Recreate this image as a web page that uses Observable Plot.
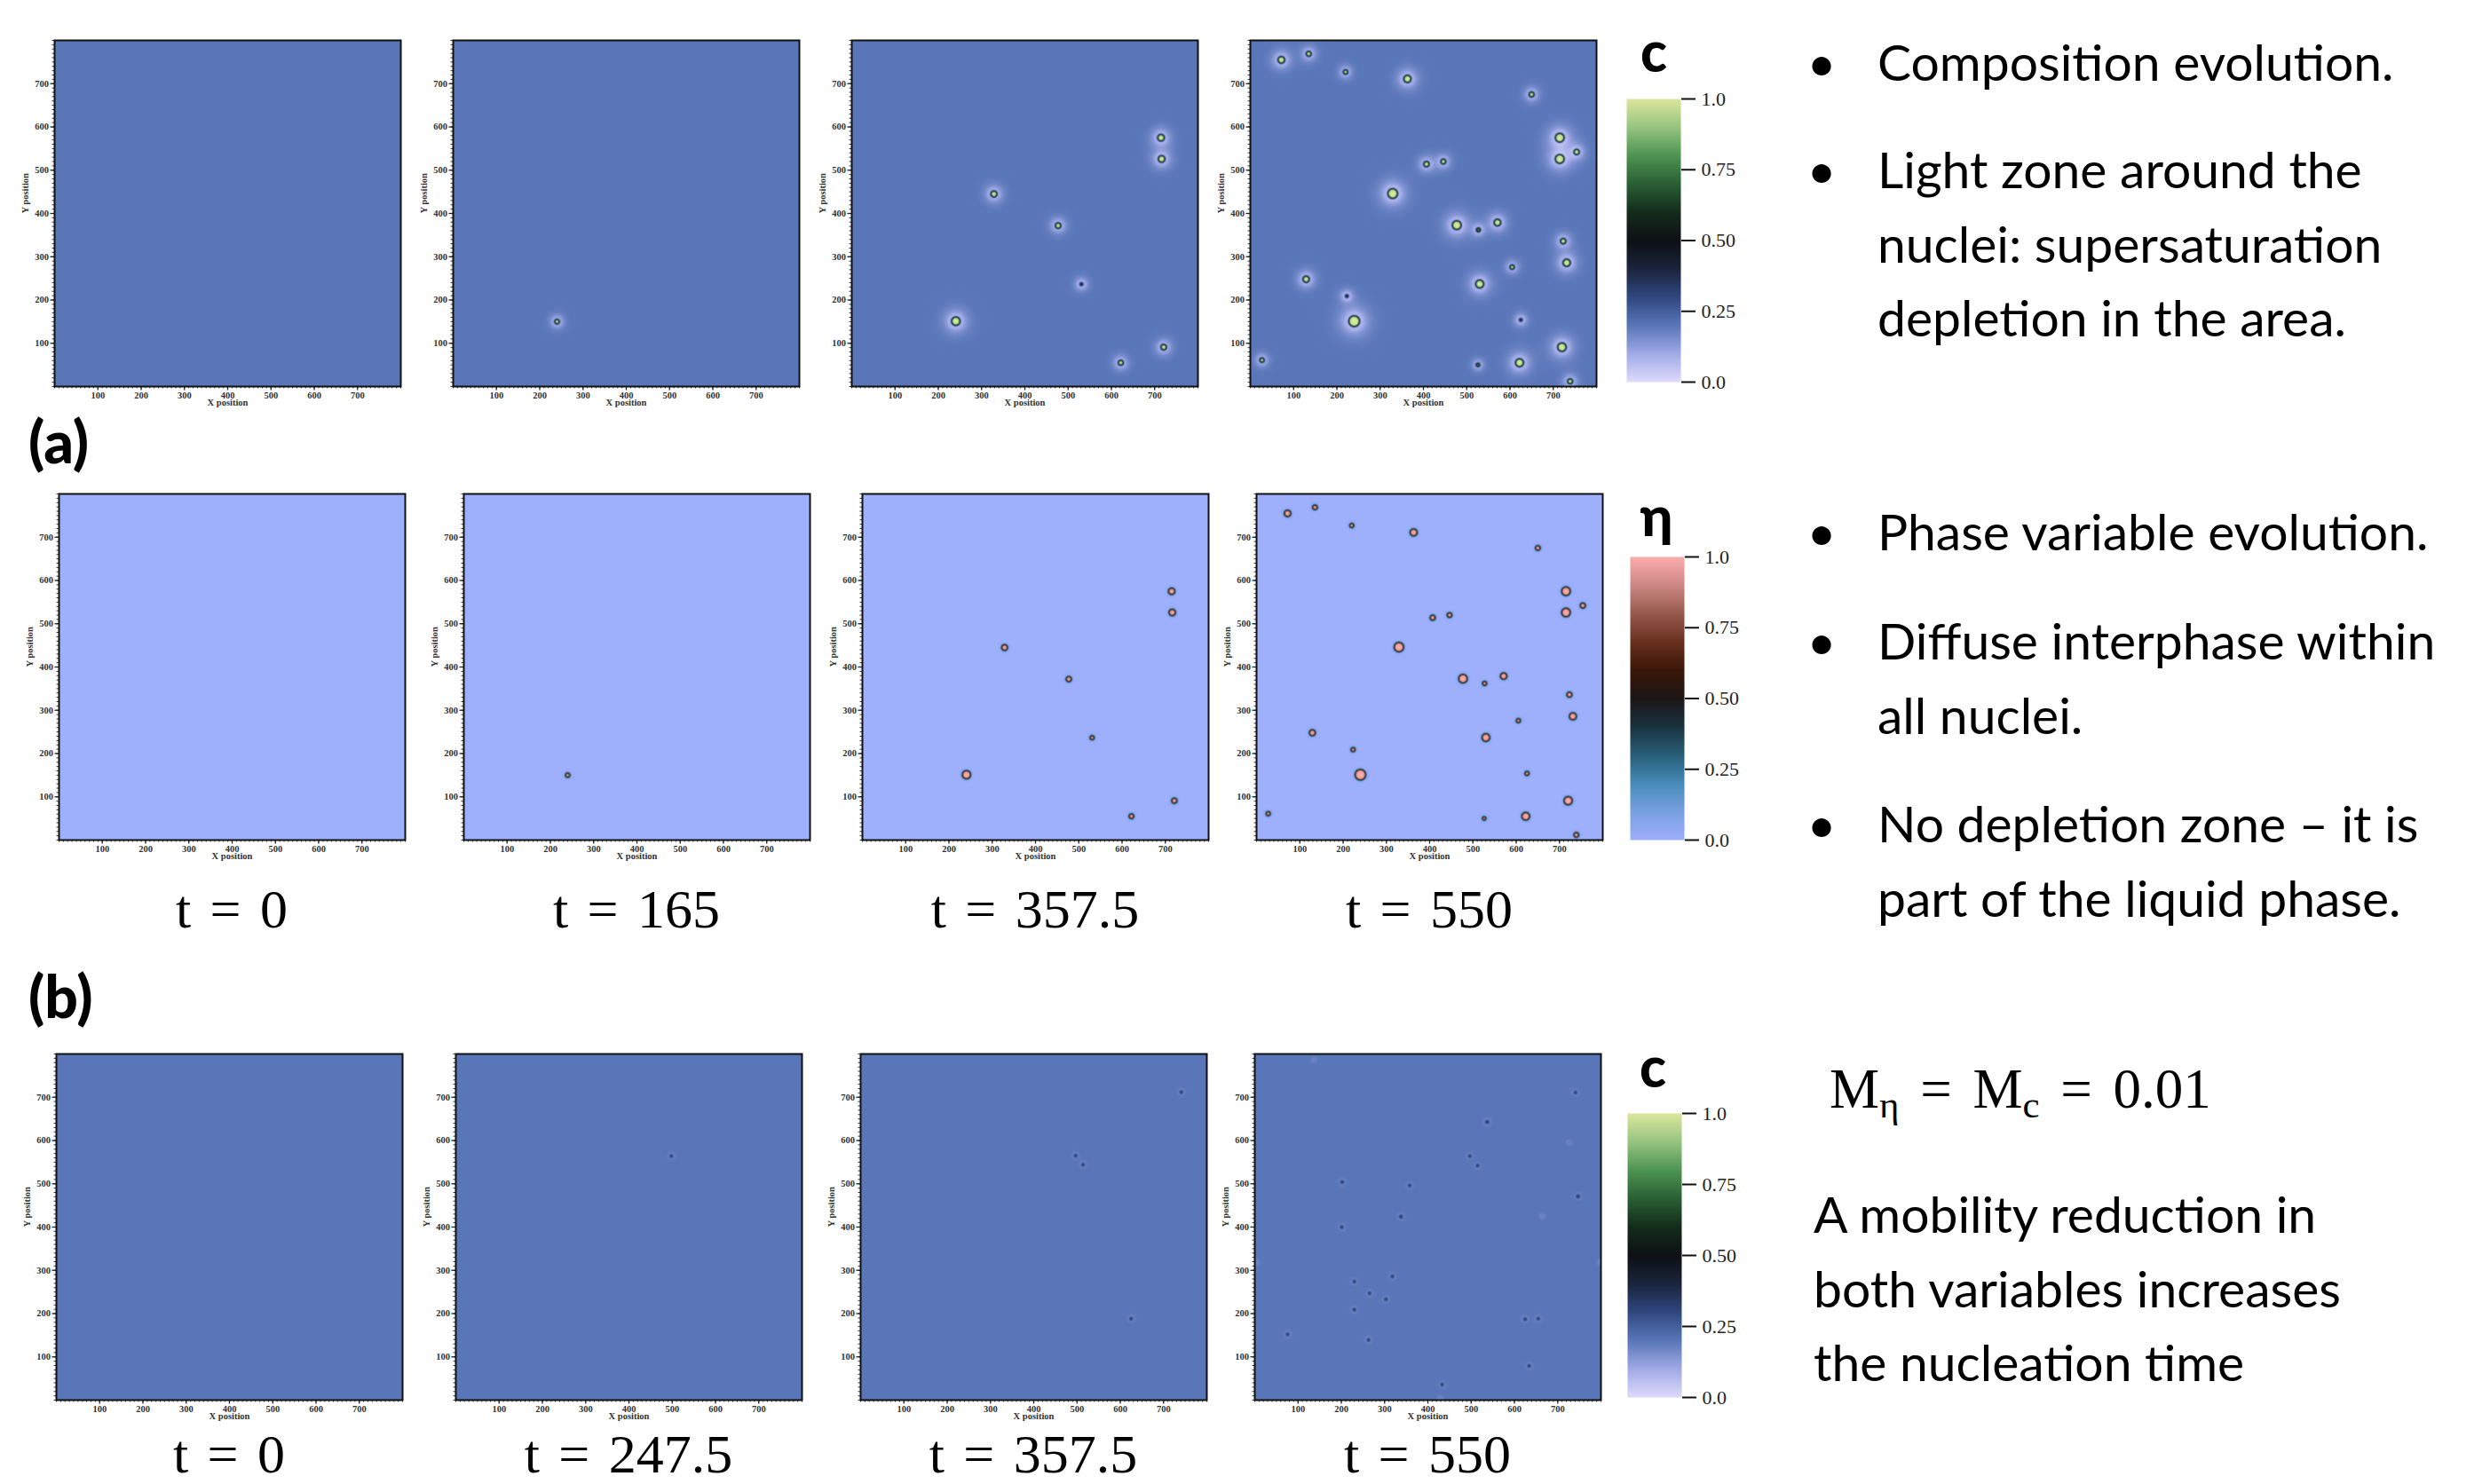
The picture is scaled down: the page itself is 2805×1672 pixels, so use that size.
<!DOCTYPE html>
<html><head><meta charset="utf-8">
<script src="https://cdn.jsdelivr.net/npm/d3@7"></script>
<script src="https://cdn.jsdelivr.net/npm/@observablehq/plot@0.6"></script>
<style>
body{margin:0;background:#fff;}
#root{position:relative;width:2805px;height:1672px;overflow:hidden;background:#fff;}
.lbl{position:absolute;white-space:nowrap;line-height:1;transform:translateY(-50%);color:#000;}
.sans{font-family:Lato,"Open Sans",sans-serif;}
.serif{font-family:"Liberation Serif","DejaVu Serif",serif;}
.ctr{transform:translate(-50%,-50%);}
sub{font-size:0.68em;vertical-align:-0.28em;line-height:0;}
</style></head><body><div id="root"></div>
<script>
// ---------------- DATA ----------------
const domainXY = [0, 800];
const majorTicks = [100, 200, 300, 400, 500, 600, 700];
const minorTicks = d3.range(0, 801, 10);
const cbarTicks = [0, 0.25, 0.5, 0.75, 1];
const cbarTickLabels = ["0.0", "0.25", "0.50", "0.75", "1.0"];
const timesA = ["t = 0", "t = 165", "t = 357.5", "t = 550"];
const timesB = ["t = 0", "t = 247.5", "t = 357.5", "t = 550"];

// nuclei: [x, y, radius, core composition]
const nucleiA0 = [];
const nucleiA165 = [[240, 150, 5, 1]];
const nucleiA357 = [[714.6,575,7.5,1],[716,526,7.5,1],[328.6,445,6.8,1],[476.9,372,6.1,1],
  [530.8,236.6,4.8,0.42],[240.5,151,9.6,1],[720.8,91,6.1,1],[621.7,55,5.5,1]];
const nucleiA550 = [[71.7,755,7.5,1],[135,769,5.5,1],[220,727,4.8,1],[363,711,8.2,1],[650,675,5.5,1],
  [715,575,10,1],[754,542,6,1],[715,526,10,1],[407,514,6,1],[446,520,5.5,1],[329,446,11,1],
  [477,373,10,1],[527,362,4.8,0.8],[571,379,7.5,1],[723,336,6,1],[731,286,8.2,1],[605,276,4.8,1],
  [129,248,7,1],[530,237,9,1],[223,209,4.8,0.42],[240,151,12.3,1],[625,154,4.8,0.42],[720,91,9.6,1],
  [27,61,4.8,1],[526,50,4,0.85],[622,55,9,1],[739,12,5.5,1]];
const nucleiB0 = [];
const nucleiB247 = [[498,564,4.5,0.31]];
const nucleiB357 = [[497,565,4.5,0.31],[514,544,4.5,0.31],[625,188,4.5,0.31],[741,712,4.5,0.31]];
const nucleiB550 = [[741,711,4.5,0.31],[537,643,5,0.31],[726,595,2.5,0.2],[497,564,4.5,0.31],[515,542,4.5,0.31],
  [202,504,4.5,0.31],[358,496,4.5,0.31],[747,471,5,0.31],[338,424,5,0.31],[665,425,2.5,0.2],[201,400,4.5,0.31],
  [3,318,3,0.2],[799,318,3,0.2],[318,286,4.5,0.31],[230,274,4.5,0.31],[265,247,4.5,0.31],[303,233,4.5,0.31],
  [230,209,4.5,0.31],[76,152,4.5,0.31],[263,139,4.5,0.31],[625,187,4.5,0.31],[655,188,4.5,0.31],[634,79,4.5,0.31],
  [433,36,4.5,0.31],[429,4,2.5,0.2],[137,786,2.5,0.2]];

const cBackground = 0.2;
const etaBackground = 0;

const bulletLinesA = [["Composition evolution."], ["Light zone around the", "nuclei: supersaturation", "depletion in the area."]];
const bulletLinesB = [["Phase variable evolution."], ["Diffuse interphase within", "all nuclei."], ["No depletion zone \u2013 it is", "part of the liquid phase."]];
const noteLines = ["A mobility reduction in", "both variables increases", "the nucleation time"];

// colour maps
const mapStops = [0, 0.1, 0.2, 0.3, 0.4, 0.5, 0.6, 0.7, 0.8, 0.9, 1];
const cColors = ["rgb(222,218,252)","rgb(160,170,230)","rgb(88,118,184)","rgb(48,72,128)","rgb(26,36,60)",
  "rgb(13,17,20)","rgb(20,44,27)","rgb(42,95,52)","rgb(78,148,82)","rgb(150,196,128)","rgb(220,231,156)"];
const etaColors = ["rgb(158,175,252)","rgb(120,160,225)","rgb(70,140,185)","rgb(40,95,120)","rgb(25,50,62)",
  "rgb(28,22,22)","rgb(58,22,8)","rgb(105,48,30)","rgb(150,90,78)","rgb(205,135,132)","rgb(250,172,172)"];

// ---------------- RENDER ----------------
const root = document.getElementById("root");
const cScale = {type: "linear", domain: mapStops, range: cColors, interpolate: "rgb", clamp: true};
const etaScale = {type: "linear", domain: mapStops, range: etaColors, interpolate: "rgb", clamp: true};

function makeField(nuclei, opt) {
  const {bg, depth, halo, w} = opt;
  const core = opt.coreValue || (v => v);
  const P = nuclei.map(([x, y, r, v]) => ({x, y, r, v: core(v), L: halo(r)}));
  return (px, py) => {
    let out = bg, best = 0, bestV = bg;
    for (const n of P) {
      const dx = px - n.x, dy = py - n.y;
      const lim = n.r + 9 * Math.max(n.L, w);
      if (Math.abs(dx) > lim || Math.abs(dy) > lim) continue;
      const s = Math.sqrt(dx * dx + dy * dy) - n.r;
      if (depth > 0) out -= depth * Math.exp(-Math.max(0, s) / n.L);
      const h = 0.5 * (1 - Math.tanh(s / w));
      if (h > best) { best = h; bestV = n.v; }
    }
    out = Math.max(0, out);
    return best * bestV + (1 - best) * out;
  };
}

const FR = 390, ML = 50, MR = 10, MT = 10, MB = 30;
function panel(field, scale, left, top) {
  const svg = Plot.plot({
    width: FR + ML + MR, height: FR + MT + MB,
    marginLeft: ML, marginRight: MR, marginTop: MT, marginBottom: MB,
    x: {domain: domainXY, label: null},
    y: {domain: domainXY, label: null},
    color: scale,
    style: {fontFamily: "'Liberation Serif', serif", fontSize: "10.5px", fontWeight: "bold", color: "#333", background: "transparent", overflow: "visible"},
    marks: [
      Plot.raster({x1: domainXY[0], x2: domainXY[1], y1: domainXY[0], y2: domainXY[1], fill: field, pixelSize: 0.5}),
      Plot.axisX(minorTicks, {tickSize: 2.5, tickFormat: () => "", strokeWidth: 0.9, stroke: "#222"}),
      Plot.axisY(minorTicks, {tickSize: 2.5, tickFormat: () => "", strokeWidth: 0.9, stroke: "#222"}),
      Plot.axisX(majorTicks, {tickSize: 4.5, tickPadding: 2, strokeWidth: 1.3, stroke: "#222"}),
      Plot.axisY(majorTicks, {tickSize: 4.5, tickPadding: 2, strokeWidth: 1.3, stroke: "#222"}),
      Plot.frame({stroke: "#111", strokeWidth: 2}),
      Plot.text(["X position"], {text: d => d, frameAnchor: "bottom", dy: 21, fill: "#333"}),
      Plot.text(["Y position"], {text: d => d, frameAnchor: "left", dx: -33, rotate: -90, fill: "#333"})
    ]
  });
  svg.style.position = "absolute";
  svg.style.left = (left - ML) + "px";
  svg.style.top = (top - MT) + "px";
  root.appendChild(svg);
}

function colorbar(scale, left, top, h) {
  const W = 61, mr = 80, mv = 14;
  const svg = Plot.plot({
    width: W + mr, height: h + 2 * mv, marginLeft: 0, marginRight: mr, marginTop: mv, marginBottom: mv,
    x: {domain: [0, 1], axis: null},
    y: {domain: [0, 1], label: null},
    color: scale,
    style: {fontFamily: "'Liberation Serif', serif", fontSize: "22px", color: "#222", background: "transparent", overflow: "visible"},
    marks: [
      Plot.raster({x1: 0, x2: 1, y1: 0, y2: 1, fill: (x, y) => y, pixelSize: 1}),
      Plot.axisY(cbarTicks, {anchor: "right", tickSize: 16, tickPadding: 7, strokeWidth: 2, stroke: "#111",
        tickFormat: d => cbarTickLabels[cbarTicks.indexOf(d)], label: null})
    ]
  });
  svg.style.position = "absolute";
  svg.style.left = left + "px";
  svg.style.top = (top - mv) + "px";
  root.appendChild(svg);
}

function label(html, cls, left, top, size, extra) {
  const d = document.createElement("div");
  d.className = "lbl " + cls;
  d.innerHTML = html;
  d.style.left = left + "px";
  d.style.top = top + "px";
  d.style.fontSize = size + "px";
  if (extra) Object.assign(d.style, extra);
  root.appendChild(d);
  return d;
}

const optA_c = {bg: cBackground, depth: 0.19, halo: r => 1.15 * r + 2, w: 2.4};
const optA_eta = {bg: etaBackground, depth: 0, halo: r => 1, w: 2.6, coreValue: () => 1};
const optB_c = {bg: cBackground, depth: 0.06, halo: r => 3, w: 1.6};

const rowA = [nucleiA0, nucleiA165, nucleiA357, nucleiA550];
const rowB = [nucleiB0, nucleiB247, nucleiB357, nucleiB550];
const colsRow1 = [61, 510, 959, 1408], colsRow2 = [66, 522, 971, 1415], colsRow3 = [63, 513, 969, 1413];
const tops = [45, 556, 1187];

rowA.forEach((n, i) => panel(makeField(n, optA_c), cScale, colsRow1[i], tops[0]));
rowA.forEach((n, i) => panel(makeField(n, optA_eta), etaScale, colsRow2[i], tops[1]));
rowB.forEach((n, i) => panel(makeField(n, optB_c), cScale, colsRow3[i], tops[2]));

colorbar(cScale, 1832, 111, 319);
colorbar(etaScale, 1836, 627, 319);
colorbar(cScale, 1833, 1254, 320);

// variable symbols above colour bars
label("c", "sans ctr", 1863, 57, 62, {fontWeight: "900"});
label("\u03b7", "sans ctr", 1866, 580, 62, {fontWeight: "900"});
label("c", "sans ctr", 1862, 1201, 62, {fontWeight: "900"});

// panel group labels
label("(a)", "sans", 32, 497, 66, {fontWeight: "900"});
label("(b)", "sans", 32, 1122, 66, {fontWeight: "900"});

// time labels
const tStyle = {wordSpacing: "6px"};
timesA.forEach((t, i) => label(t, "serif ctr", colsRow2[i] + FR / 2, 1024, 62, tStyle));
timesB.forEach((t, i) => label(t, "serif ctr", colsRow3[i] + FR / 2, 1638, 62, tStyle));

// right-hand text: size fitted to the reference line width
const cv = document.createElement("canvas").getContext("2d");
cv.font = "100px Lato";
const textSize = Math.round(100 * 580 / cv.measureText("Composition evolution.").width);
const lineGap = 83.5;
const bulletX = 2052, textX = 2115;
function bullets(groups, starts) {
  groups.forEach((lines, g) => {
    label("\u2022", "sans ctr", bulletX, starts[g] , textSize);
    lines.forEach((s, k) => label(s, "sans", textX, starts[g] + k * lineGap, textSize));
  });
}
bullets(bulletLinesA, [69, 190]);
bullets(bulletLinesB, [598, 721, 927]);
noteLines.forEach((s, k) => label(s, "sans", 2043, 1367 + k * lineGap, textSize));
label("M<sub>\u03b7</sub> = M<sub>c</sub> = 0.01", "serif", 2061, 1227, 63, {wordSpacing: "8px"});
</script></body></html>
